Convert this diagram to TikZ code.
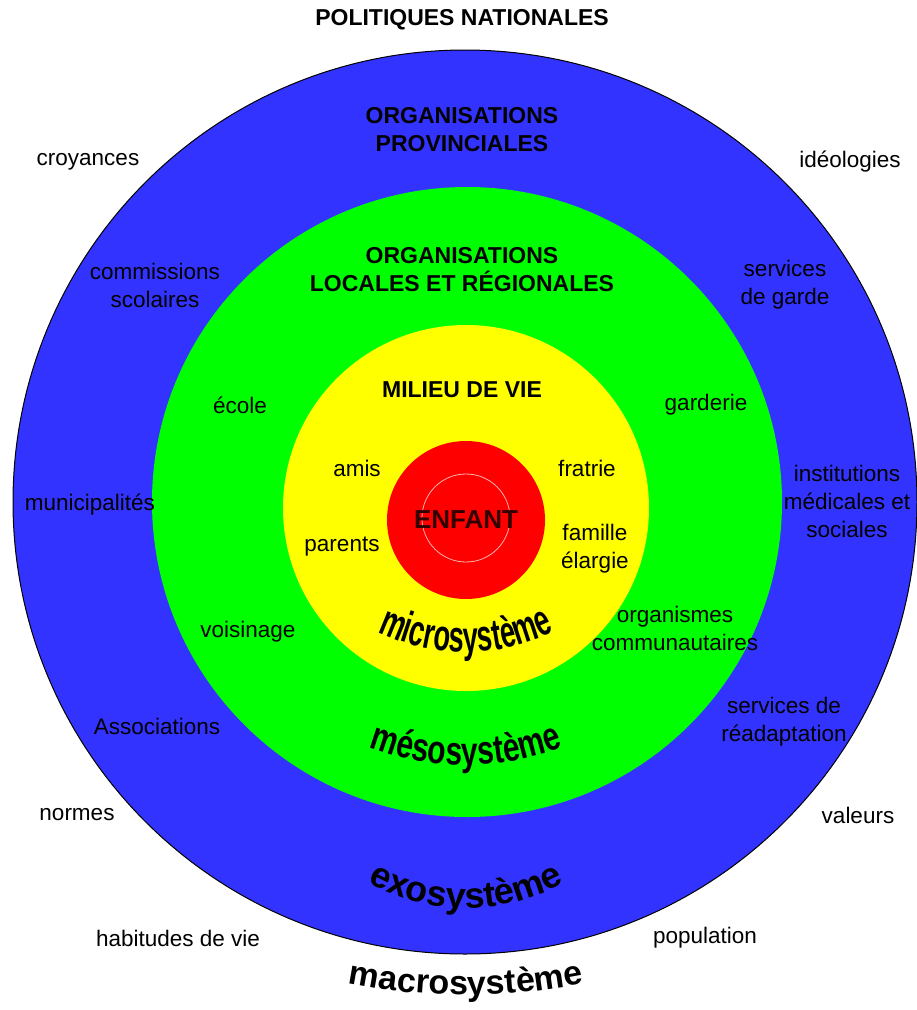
\documentclass[tikz,border=0pt]{standalone}
\usepackage{fontspec}
\setmainfont{Liberation Sans}
\newfontfamily\narrowfont[FakeStretch=0.62]{Liberation Sans}
\newfontfamily\semifont[FakeStretch=0.75]{Liberation Sans}
\usepackage{tikz}
\usetikzlibrary{decorations.text}
\definecolor{ringblue}{RGB}{51,51,255}
\definecolor{ringgreen}{RGB}{0,255,0}
\definecolor{ringyellow}{RGB}{255,255,0}
\definecolor{ringred}{RGB}{255,0,0}

\begin{document}
\begin{tikzpicture}
	[x=1pt,y=1pt,
		lbl/.style={align=center,inner sep=0pt,font=\fontsize{22.5}{28}\selectfont},
		ttl/.style={align=center,inner sep=0pt,font=\fontsize{23}{28}\selectfont\bfseries},
		arctext/.style={decorate,decoration={text along path,text align=center,text={#1}}}]

	\useasboundingbox (0,0) rectangle (917,-1010);

	% rings
	\filldraw[fill=ringblue,draw=black,line width=1pt] (465,-502) circle (452);
	\fill[ringgreen] (467,-502) circle (315);
	\fill[ringyellow] (466,-508) circle (183);
	\fill[ringred] (466,-520) circle (79);
	\draw[ringred!30!white,line width=0.8pt] (466,-518) circle (44);

	% curved names
	\path[arctext={|\narrowfont\bfseries\fontsize{44}{44}\selectfont|microsystème}] (466,-448) ++(200:204) arc (200:340:204);
	\path[arctext={|\semifont\bfseries\fontsize{40}{40}\selectfont|mésosystème}] (466,-495) ++(205:270) arc (205:335:270);
	\path[arctext={|\bfseries\fontsize{36}{36}\selectfont|exosystème}] (466,-703) ++(200:205) arc (200:340:205);
	\path[arctext={|\bfseries\fontsize{34}{34}\selectfont|macrosystème}] (466,-389) ++(250:606) arc (250:290:606);

	\node[ttl] (pol) at (462,-20) {POLITIQUES NATIONALES};
	\node[ttl] (prov) at (462,-130) {ORGANISATIONS\\PROVINCIALES};
	\node[ttl] (loc) at (462,-270) {ORGANISATIONS\\LOCALES ET RÉGIONALES};
	\node[ttl] (mil) at (462,-390) {MILIEU DE VIE};
	\node[ttl,font=\fontsize{26}{28}\selectfont\bfseries,text=black!80!red] (enf) at (466,-520) {ENFANT};

	\node[lbl] (croy) at (88,-162) {croyances};
	\node[lbl] (ideo) at (850,-162) {idéologies};
	\node[lbl] (comm) at (155,-285) {commissions\\scolaires};
	\node[lbl] (garde) at (785,-285) {services\\de garde};
	\node[lbl] (ecole) at (240,-405) {école};
	\node[lbl] (gard) at (706,-405) {garderie};
	\node[lbl] (amis) at (357,-468) {amis};
	\node[lbl] (frat) at (587,-468) {fratrie};
	\node[lbl] (muni) at (90,-505) {municipalités};
	\node[lbl] (inst) at (847,-501) {institutions\\médicales et\\sociales};
	\node[lbl] (par) at (342,-547) {parents};
	\node[lbl] (fam) at (595,-549) {famille\\élargie};
	\node[lbl] (vois) at (248,-632) {voisinage};
	\node[lbl] (orga) at (675,-628) {organismes\\communautaires};
	\node[lbl] (asso) at (157,-726) {Associations};
	\node[lbl] (read) at (784,-722) {services de\\réadaptation};
	\node[lbl] (norm) at (77,-815) {normes};
	\node[lbl] (val) at (858,-815) {valeurs};
	\node[lbl] (hab) at (178,-938) {habitudes de vie};
	\node[lbl] (pop) at (705,-938) {population};
\end{tikzpicture}
\end{document}
